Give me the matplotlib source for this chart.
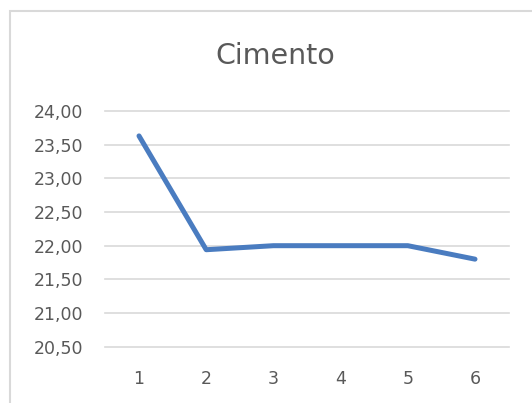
import matplotlib.pyplot as plt
from matplotlib.patches import Rectangle

# data
categories = [1, 2, 3, 4, 5, 6]
cimento = [23.63, 21.94, 22.00, 22.00, 22.00, 21.80]
y_ticks = [20.5, 21.0, 21.5, 22.0, 22.5, 23.0, 23.5, 24.0]

W, H = 532, 403
fig = plt.figure(figsize=(W / 100, H / 100), dpi=100)
plt.rcParams['font.family'] = ['DejaVu Sans']

# light chart-area border (cropped at right and bottom)
fig.patches.append(Rectangle((10 / W, -0.05), 1.1, 1 - 11.5 / H + 0.05,
                             transform=fig.transFigure, fill=False,
                             edgecolor='#D9D9D9', linewidth=1.5))

ax = fig.add_axes([105.4 / W, 1 - 346.7 / H, (508.6 - 105.4) / W, (346.7 - 111) / H])
ax.plot(categories, cimento, color='#4A7CC0', linewidth=3.6,
        solid_capstyle='round', solid_joinstyle='round', zorder=3)

ax.set_xlim(0.5, 6.5)
ax.set_ylim(20.5, 24.0)
ax.set_xticks(categories)
ax.set_yticks(y_ticks)
ax.set_yticklabels([('%.2f' % v).replace('.', ',') for v in y_ticks])

for s in ax.spines.values():
    s.set_visible(False)
ax.tick_params(length=0, colors='#595959', labelsize=12.5)
ax.tick_params(axis='y', pad=16)
ax.tick_params(axis='x', pad=17)
ax.grid(axis='y', color='#D9D9D9', linewidth=1.2)
for gl in ax.get_ygridlines():
    gl.set_clip_on(False)
ax.set_axisbelow(True)

fig.text(275 / W, 1 - 56 / H, 'Cimento', ha='center', va='center',
         fontsize=20.5, color='#595959')

fig.savefig('out.png', dpi=100)
